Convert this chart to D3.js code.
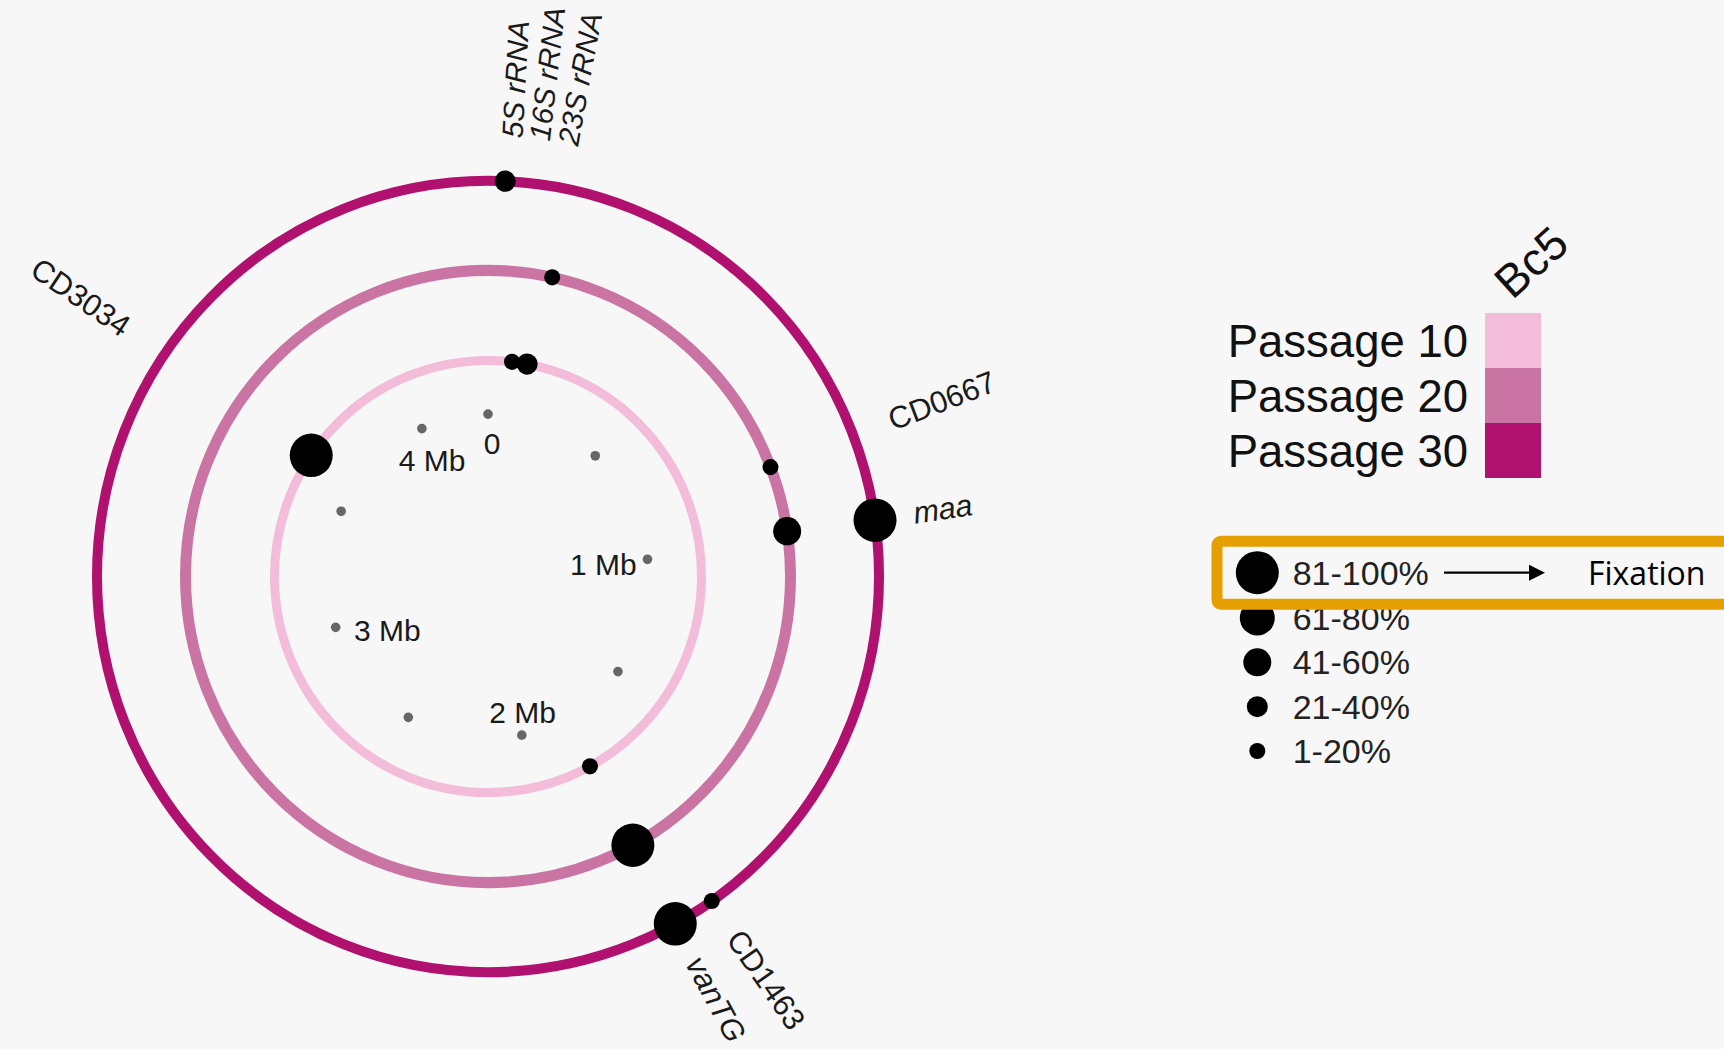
<!DOCTYPE html>
<html><head><meta charset="utf-8">
<script src="https://cdn.jsdelivr.net/npm/d3@7"></script>
<style>
html,body{margin:0;padding:0;background:#f7f7f7;}
svg{display:block;}
</style></head><body>
<svg id="chart" width="1724" height="1049"></svg>
<script>
// ---------------- data ----------------
const genomeLength = 4.29; // Mb
const tickPositions = [0, 0.5, 1, 1.5, 2, 2.5, 3, 3.5, 4];
const tickLabels = ["0", "", "1 Mb", "", "2 Mb", "", "3 Mb", "", "4 Mb"];
const passages = ["Passage 10", "Passage 20", "Passage 30"];
const passageColors = ["#f3bcd9", "#c974a3", "#b0106e"];
const freqBins = ["81-100%", "61-80%", "41-60%", "21-40%", "1-20%"];
const p10Positions = [0.077, 0.126, 1.805, 3.624];
const p10Freq = ["1-20%", "21-40%", "1-20%", "81-100%"];
const p20Positions = [0.146, 0.823, 0.971, 1.804];
const p20Freq = ["1-20%", "1-20%", "41-60%", "81-100%"];
const p30Positions = [0.030, 0.975, 1.729, 1.804];
const p30Freq = ["21-40%", "81-100%", "1-20%", "81-100%"];
const geneNames = ["5S rRNA", "16S rRNA", "23S rRNA", "CD0667", "maa", "CD1463", "vanTG", "CD3034"];
const genePositions = [0.038, 0.081, 0.126, 0.823, 0.973, 1.729, 1.804, 3.624];
const geneItalic = [true, true, true, false, true, false, true, false];
const sampleName = "Bc5";
const highlightBin = "81-100%";
const highlightNote = "Fixation";

// ---------------- layout ----------------
const W = 1724, H = 1049;
const cx = 488, cy = 576.5, yStretch = 1.012;
const tickR = 160.4, labelR = 430;
const FONT = "'Liberation Sans', Arial, sans-serif";

const svg = d3.select("#chart");
svg.append("rect").attr("width", W).attr("height", H).attr("fill", "#f7f7f7");

const angle = d3.scaleLinear().domain([0, genomeLength]).range([0, 2 * Math.PI]);
const ringR = d3.scaleOrdinal().domain(passages).range([213.5, 302.5, 391]);
const ringW = d3.scaleOrdinal().domain(passages).range([9, 11, 10]);
const color = d3.scaleOrdinal().domain(passages).range(passageColors);
const dotR = d3.scaleOrdinal().domain(freqBins).range([21.5, 17.5, 14, 10.5, 8]);

const g = svg.append("g").attr("transform", `translate(${cx},${cy}) scale(1,${yStretch})`);
const px = (r, v) => r * Math.sin(angle(v));
const py = (r, v) => -r * Math.cos(angle(v));

// rings
g.selectAll("circle.ring").data(passages).join("circle")
  .attr("class", "ring")
  .attr("r", d => ringR(d))
  .attr("fill", "none")
  .attr("stroke", d => color(d))
  .attr("stroke-width", d => ringW(d));

// tick dots
const ticks = tickPositions.map((p, i) => ({ p, label: tickLabels[i] }));
g.selectAll("circle.tick").data(ticks).join("circle")
  .attr("class", "tick")
  .attr("cx", d => px(tickR, d.p))
  .attr("cy", d => py(tickR, d.p))
  .attr("r", 4.8)
  .attr("fill", "#676767");

// tick labels
const tickFont = 30, cap = tickFont * 0.716, gap = 15, tdx = 4, tdy = 3;
g.selectAll("text.tick").data(ticks.filter(d => d.label)).join("text")
  .attr("class", "tick")
  .attr("font-family", FONT).attr("font-size", tickFont).attr("fill", "#1a1a1a")
  .attr("text-anchor", d => {
    const s = Math.sin(angle(d.p));
    return s > 0.6 ? "end" : (s < -0.6 ? "start" : "middle");
  })
  .attr("x", d => px(tickR - gap, d.p) + tdx)
  .attr("y", d => {
    const c = Math.cos(angle(d.p));
    const s = Math.sin(angle(d.p));
    const y0 = py(tickR - gap, d.p) + tdy + (s < -0.3 ? 4 : 0);
    return c > 0.6 ? y0 + cap : (c < -0.6 ? y0 : y0 + cap / 2);
  })
  .text(d => d.label);

// mutation dots
const mutations = [
  ...p10Positions.map((p, i) => ({ passage: passages[0], p, f: p10Freq[i] })),
  ...p20Positions.map((p, i) => ({ passage: passages[1], p, f: p20Freq[i] })),
  ...p30Positions.map((p, i) => ({ passage: passages[2], p, f: p30Freq[i] }))
];
g.selectAll("circle.mut").data(mutations).join("circle")
  .attr("class", "mut")
  .attr("cx", d => px(ringR(d.passage), d.p))
  .attr("cy", d => py(ringR(d.passage), d.p))
  .attr("r", d => dotR(d.f))
  .attr("fill", "#000");

// gene labels (radial)
const genes = geneNames.map((n, i) => ({ n, p: genePositions[i], it: geneItalic[i] }));
g.selectAll("text.gene").data(genes).join("text")
  .attr("class", "gene")
  .attr("font-family", FONT)
  .attr("font-size", d => d.n.includes(" ") ? 29.5 : 30.5)
  .attr("fill", "#1a1a1a")
  .attr("font-style", d => d.it ? "italic" : "normal")
  .attr("dominant-baseline", "central")
  .attr("text-anchor", d => angle(d.p) < Math.PI ? "start" : "end")
  .attr("transform", d => {
    const deg = angle(d.p) * 180 / Math.PI;
    return deg < 180 ? `rotate(${deg - 90}) translate(${labelR + (d.n.includes(" ") ? 4 : 0)},0)`
                     : `rotate(${deg + 90}) translate(${-labelR - 6},0)`;
  })
  .text(d => d.n);

// ---------------- colour legend ----------------
const legX = 1485, legW = 56;
const band = d3.scaleBand().domain(passages).range([313, 478]);
const leg = svg.append("g");
leg.selectAll("rect").data(passages).join("rect")
  .attr("x", legX).attr("y", d => band(d))
  .attr("width", legW).attr("height", band.bandwidth())
  .attr("fill", d => color(d));
leg.selectAll("text").data(passages).join("text")
  .attr("x", 1468).attr("y", d => band(d) + band.bandwidth() / 2 + 16)
  .attr("text-anchor", "end")
  .attr("font-family", FONT).attr("font-size", 45.5).attr("fill", "#111")
  .text(d => d);
svg.append("text")
  .attr("transform", `translate(${1531},${262}) rotate(-42)`)
  .attr("text-anchor", "middle").attr("dominant-baseline", "central")
  .attr("font-family", FONT).attr("font-size", 46).attr("fill", "#111")
  .text(sampleName);

// ---------------- size legend ----------------
const sizeX = 1257.3, sizeTextX = 1292.7, sizeFont = 34;
const lowerBins = freqBins.filter(b => b !== highlightBin);
const rowY = d3.scalePoint().domain(lowerBins).range([618, 751]);
const yOf = b => b === highlightBin ? 572.7 : rowY(b);
const sl = svg.append("g");
sl.selectAll("circle").data(freqBins).join("circle")
  .attr("cx", sizeX).attr("cy", d => yOf(d)).attr("r", d => dotR(d)).attr("fill", "#000");
sl.selectAll("text").data(freqBins).join("text")
  .attr("x", sizeTextX).attr("y", d => yOf(d) + sizeFont * 0.35)
  .attr("font-family", FONT).attr("font-size", sizeFont).attr("fill", "#222")
  .text(d => d);

// highlight box + arrow + note
const hy = yOf(highlightBin);
svg.append("rect")
  .attr("x", 1217).attr("y", hy - 31.5).attr("width", 620).attr("height", 63).attr("rx", 4)
  .attr("fill", "none").attr("stroke", "#e69f00").attr("stroke-width", 11);
svg.append("line")
  .attr("x1", 1444).attr("x2", 1531).attr("y1", hy).attr("y2", hy)
  .attr("stroke", "#000").attr("stroke-width", 2.2);
svg.append("path")
  .attr("d", `M1529,${hy - 8} L1545,${hy} L1529,${hy + 8} Z`).attr("fill", "#000");
svg.append("text")
  .attr("x", 1588).attr("y", hy + 12.3)
  .attr("font-family", "'Open Sans', sans-serif").attr("font-size", 32).attr("fill", "#000")
  .text(highlightNote);
</script>
</body></html>
